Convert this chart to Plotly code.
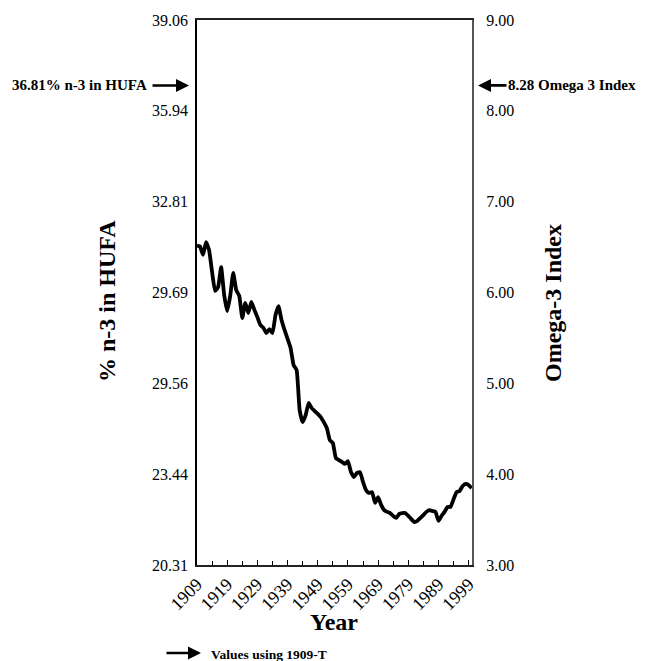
import plotly.graph_objects as go

years = list(range(1909, 2001))
n3_hufa = [
    31.30, 31.27, 30.98, 31.42, 31.15, 30.39, 29.74, 29.88, 30.56, 29.60,
    29.05, 29.57, 30.36, 29.77, 29.57, 28.81, 29.33, 28.98, 29.36, 29.09,
    28.84, 28.57, 28.47, 28.29, 28.43, 28.29, 28.91, 29.22, 28.74, 28.40,
    28.09, 27.78, 27.19, 27.02, 25.64, 25.23, 25.47, 25.89, 25.71, 25.61,
    25.51, 25.40, 25.23, 25.03, 24.61, 24.51, 23.99, 23.92, 23.86, 23.79,
    23.89, 23.51, 23.34, 23.48, 23.51, 23.17, 22.89, 22.79, 22.82, 22.45,
    22.65, 22.38, 22.20, 22.14, 22.10, 22.00, 21.93, 22.07, 22.10, 22.10,
    22.00, 21.89, 21.79, 21.83, 21.93, 22.03, 22.14, 22.20, 22.17, 22.14,
    21.83, 22.00, 22.14, 22.31, 22.31, 22.58, 22.82, 22.86, 23.03, 23.10,
    23.06, 22.96,
]

x_tick_vals = list(range(1909, 2000, 10))
left_tick_vals = [20.3125, 23.4375, 26.5625, 29.6875, 32.8125, 35.9375, 39.0625]
left_tick_text = ["20.31", "23.44", "29.56", "29.69", "32.81", "35.94", "39.06"]
right_tick_vals = [3, 4, 5, 6, 7, 8, 9]
right_tick_text = ["3.00", "4.00", "5.00", "6.00", "7.00", "8.00", "9.00"]

hufa_marker = 36.81
omega_marker = 8.28

FONT = "Liberation Serif"

# page has an 8px body margin; plot area on screen spans x 197-472, y 20-565
def px(x):
    return (x - 197) / 275

def py(y):
    return (565 - y) / 545

fig = go.Figure()
fig.add_trace(go.Scatter(x=years, y=n3_hufa, mode="lines",
                         line=dict(color="black", width=3.8, shape="spline", smoothing=0.4),
                         showlegend=False, hoverinfo="skip"))
fig.add_trace(go.Scatter(x=[], y=[], yaxis="y2", showlegend=False))

fig.update_layout(
    width=641, height=653,
    margin=dict(l=189, r=177, t=12, b=96, autoexpand=False),
    paper_bgcolor="white", plot_bgcolor="white",
    font=dict(family=FONT, color="black", size=16),
    xaxis=dict(
        range=[1909, 2000.1], tickvals=x_tick_vals, tickangle=-45,
        ticks="inside", ticklen=5, tickcolor="black", tickwidth=1,
        minor=dict(tick0=1904, dtick=5, ticks="inside", ticklen=4, tickcolor="black"),
        showline=True, linecolor="#222", linewidth=1.5, mirror=True,
        showgrid=False, zeroline=False, automargin=False,
        tickfont=dict(family=FONT, size=18),
    ),
    yaxis=dict(
        range=[20.3125, 39.0625], tickvals=left_tick_vals, ticktext=left_tick_text,
        ticks="", showline=True, linecolor="black", linewidth=1.5,
        showgrid=False, zeroline=False, ticklabelstandoff=4, automargin=False,
        tickfont=dict(family=FONT, size=16),
    ),
    yaxis2=dict(
        range=[3, 9], tickvals=right_tick_vals, ticktext=right_tick_text,
        overlaying="y", side="right", ticks="", showline=True,
        linecolor="#555", linewidth=2, showgrid=False, zeroline=False,
        ticklabelstandoff=9, automargin=False, tickfont=dict(family=FONT, size=16),
    ),
)

bold = dict(family=FONT, color="black")
# axis titles
fig.add_annotation(text="<b>% n-3 in HUFA</b>", xref="paper", yref="paper",
                   x=px(107), y=py(301), textangle=-90, xanchor="center", yanchor="middle",
                   showarrow=False, font=dict(size=24, **bold))
fig.add_annotation(text="<b>Omega-3 Index</b>", xref="paper", yref="paper",
                   x=px(553), y=py(303), textangle=-90, xanchor="center", yanchor="middle",
                   showarrow=False, font=dict(size=24, **bold))
fig.add_annotation(text="<b>Year</b>", xref="paper", yref="paper",
                   x=px(334), y=py(622), xanchor="center", yanchor="middle",
                   showarrow=False, font=dict(size=24, **bold))

# marker arrows
fig.add_annotation(text="", xref="paper", yref="y", x=px(189), y=hufa_marker,
                   ax=-38, ay=0, showarrow=True, arrowhead=2, arrowsize=1,
                   arrowwidth=2.6, arrowcolor="black")
fig.add_annotation(text="<b>36.81% n-3 in HUFA</b>", xref="paper", yref="y",
                   x=px(149), y=hufa_marker, xanchor="right", yanchor="middle",
                   showarrow=False, font=dict(size=15, **bold))
fig.add_annotation(text="", xref="paper", yref="y2", x=px(478), y=omega_marker,
                   ax=30, ay=0, showarrow=True, arrowhead=2, arrowsize=1,
                   arrowwidth=2.6, arrowcolor="black")
fig.add_annotation(text="<b>8.28 Omega 3 Index</b>", xref="paper", yref="y2",
                   x=px(506), y=omega_marker, xanchor="left", yanchor="middle",
                   showarrow=False, font=dict(size=15, **bold))
fig.add_annotation(text="", xref="paper", yref="paper", x=px(201),
                   y=py(653), ax=-36, ay=0, showarrow=True, arrowhead=2,
                   arrowsize=1, arrowwidth=2.6, arrowcolor="black")
fig.add_annotation(text="<b>Values using 1909-T</b>", xref="paper", yref="paper",
                   x=px(209), y=py(654), xanchor="left", yanchor="middle",
                   showarrow=False, font=dict(size=13.5, **bold))

fig.write_html("out.html")
